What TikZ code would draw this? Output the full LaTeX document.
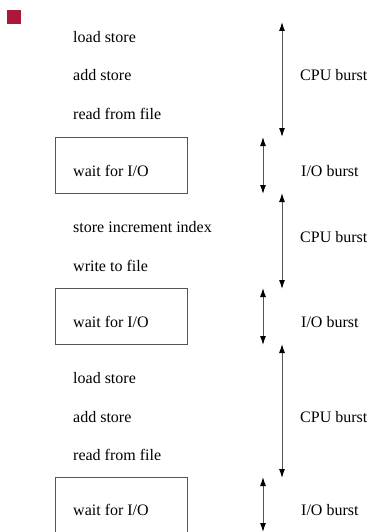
\documentclass[tikz,border=0pt]{standalone}
\usepackage{fontspec}
\setmainfont{Liberation Serif}
\usetikzlibrary{arrows.meta}
\definecolor{markred}{RGB}{170,25,55}
\definecolor{linegray}{RGB}{85,85,85}
\tikzset{
  line/.style={draw=linegray, line width=1pt},
  stmt/.style={anchor=base west, inner sep=0pt, font=\fontsize{16}{19}\selectfont},
  burstlabel/.style={anchor=base west, inner sep=0pt, font=\fontsize{16}{19}\selectfont},
  waitbox/.style={line},
  tip/.style={Latex[length=9pt,width=6pt,black]},
  burst/.style={line, {Latex[length=9pt,width=6pt,black]}-{Latex[length=9pt,width=6pt,black]}}
}
\begin{document}
\begin{tikzpicture}[x=1pt,y=-1pt]
  \useasboundingbox (0,0) rectangle (370,532);
  \clip (0,0) rectangle (370,532);

  % corner marker
  \fill[markred] (7,10) rectangle (21,24);

  % first CPU phase
  \node[stmt] (l1) at (73,43) {load store};
  \node[stmt] (l2) at (73,81) {add store};
  \node[stmt] (l3) at (73,119) {read from file};

  % first I/O wait
  \draw[waitbox] (55,137) rectangle (187,193);
  \node[stmt] (w1) at (73,176) {wait for I/O};

  % second CPU phase
  \node[stmt] (l4) at (73,232) {store increment index};
  \node[stmt] (l5) at (73,271) {write to file};

  % second I/O wait
  \draw[waitbox] (55,288) rectangle (187,344);
  \node[stmt] (w2) at (73,327) {wait for I/O};

  % third CPU phase
  \node[stmt] (l6) at (73,383) {load store};
  \node[stmt] (l7) at (73,422) {add store};
  \node[stmt] (l8) at (73,460) {read from file};

  % third I/O wait (runs past the bottom edge)
  \draw[waitbox] (55,477) rectangle (187,545);
  \node[stmt] (w3) at (73,515) {wait for I/O};

  % burst extents
  \coordinate (c1a) at (282,22);  \coordinate (c1b) at (282,137);
  \coordinate (i1a) at (263,137); \coordinate (i1b) at (263,194);
  \coordinate (c2a) at (282,193); \coordinate (c2b) at (282,289);
  \coordinate (i2a) at (263,288); \coordinate (i2b) at (263,345);
  \coordinate (c3a) at (282,344); \coordinate (c3b) at (282,478);
  \coordinate (i3a) at (263,477); \coordinate (i3b) at (263,532);

  \draw[burst] (c1a) -- (c1b);
  \draw[burst] (i1a) -- (i1b);
  \draw[burst] (c2a) -- (c2b);
  \draw[burst] (i2a) -- (i2b);
  \draw[burst] (c3a) -- (c3b);
  \draw[burst] (i3a) -- (i3b);

  % burst labels
  \node[burstlabel] (b1) at (300,81)  {CPU burst};
  \node[burstlabel] (b2) at (301,176) {I/O burst};
  \node[burstlabel] (b3) at (300,242) {CPU burst};
  \node[burstlabel] (b4) at (301,327) {I/O burst};
  \node[burstlabel] (b5) at (300,422) {CPU burst};
  \node[burstlabel] (b6) at (301,515) {I/O burst};
\end{tikzpicture}
\end{document}
